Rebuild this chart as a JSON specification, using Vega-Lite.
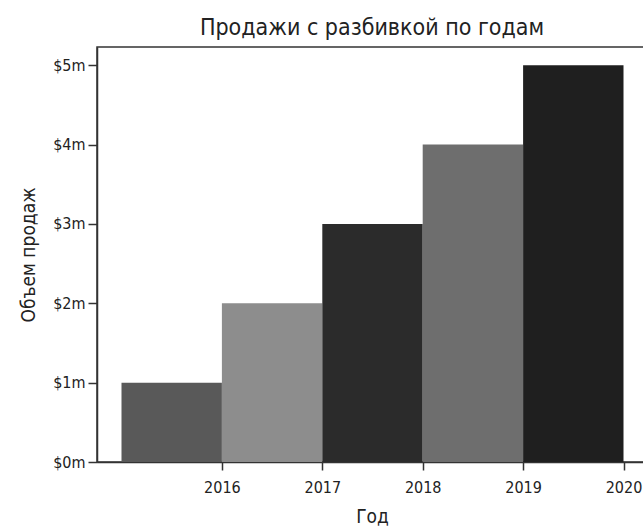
{
  "$schema": "https://vega.github.io/schema/vega-lite/v6.json",
  "autosize": "none",
  "padding": {"left": 97, "top": 47, "right": 0, "bottom": 69},
  "width": 550,
  "height": 415,
  "background": "white",
  "title": {
    "text": "Продажи с разбивкой по годам",
    "fontSize": 23,
    "font": "DejaVu Sans Condensed",
    "fontWeight": "normal",
    "color": "#222",
    "offset": 7
  },
  "data": {
    "values": [
      {"start": 2015, "end": 2016, "sales": 1, "key": "a"},
      {"start": 2016, "end": 2017, "sales": 2, "key": "b"},
      {"start": 2017, "end": 2018, "sales": 3, "key": "c"},
      {"start": 2018, "end": 2019, "sales": 4, "key": "d"},
      {"start": 2019, "end": 2020, "sales": 5, "key": "e"}
    ]
  },
  "mark": {"type": "rect", "stroke": null},
  "encoding": {
    "x": {
      "field": "start",
      "type": "quantitative",
      "scale": {"domain": [2014.756, 2020.234], "nice": false, "zero": false},
      "axis": {
        "title": "Год",
        "values": [2016, 2017, 2018, 2019, 2020],
        "format": "d",
        "grid": false,
        "tickSize": 8,
        "labelPadding": 9,
        "titlePadding": 12
      }
    },
    "x2": {"field": "end"},
    "y": {
      "field": "sales",
      "type": "quantitative",
      "scale": {"domain": [0, 5.23], "nice": false},
      "axis": {
        "title": "Объем продаж",
        "values": [0, 1, 2, 3, 4, 5],
        "labelExpr": "'$' + datum.value + 'm'",
        "grid": false,
        "tickSize": 9,
        "labelPadding": 3,
        "titlePadding": 14
      }
    },
    "y2": {"datum": 0},
    "color": {
      "field": "key",
      "type": "nominal",
      "legend": null,
      "scale": {
        "domain": ["a", "b", "c", "d", "e"],
        "range": ["#595959", "#8d8d8d", "#2b2b2b", "#6e6e6e", "#1f1f1f"]
      }
    }
  },
  "config": {
    "view": {"stroke": "#333", "strokeWidth": 1.5},
    "axis": {
      "labelFont": "DejaVu Sans Condensed",
      "titleFont": "DejaVu Sans Condensed",
      "labelFontSize": 16,
      "titleFontSize": 19,
      "titleFontWeight": "normal",
      "labelColor": "#222",
      "titleColor": "#222",
      "domainColor": "#333",
      "tickColor": "#333",
      "domainWidth": 1.5,
      "tickWidth": 1.5
    }
  }
}
